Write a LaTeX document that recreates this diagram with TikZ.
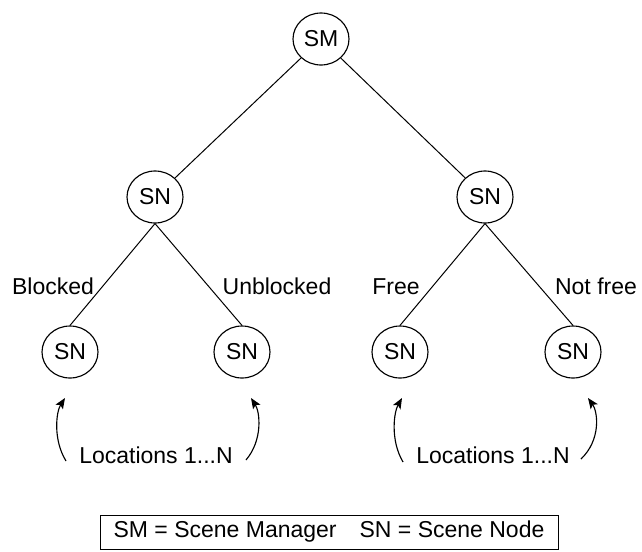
\documentclass[tikz,border=0pt]{standalone}
\usepackage{fontspec}
\setmainfont{Liberation Sans}
\usetikzlibrary{shapes.geometric,arrows.meta,calc}

\begin{document}
\begin{tikzpicture}[x=0.75pt,y=-0.75pt,
  every node/.style={font=\fontsize{17.25}{20}\selectfont},
  treenode/.style={draw,ellipse,line width=0.85pt,minimum width=42pt,minimum height=39pt,inner sep=0pt},
  edge/.style={line width=0.75pt},
  branch/.style={anchor=base,inner sep=0pt},
  pointer/.style={line width=0.85pt,-{Stealth[length=8pt,width=6.5pt,inset=1.8pt]}},
  legend/.style={draw,line width=0.75pt,minimum width=343.5pt,minimum height=25.5pt,inner sep=0pt}]

  \useasboundingbox (0,0) rectangle (642,551);

  % tree
  \node[treenode] (sm) at (321,39) {SM};
  \node[treenode] (snl) at (155,197) {SN};
  \node[treenode] (snr) at (485,197) {SN};
  \node[treenode] (snll) at (70,352) {SN};
  \node[treenode] (snlr) at (242,352) {SN};
  \node[treenode] (snrl) at (400,352) {SN};
  \node[treenode] (snrr) at (573,352) {SN};

  \draw[edge] (sm) -- (snl);
  \draw[edge] (sm) -- (snr);
  \draw[edge] (snl.south) -- (snll.north);
  \draw[edge] (snl.south) -- (snlr.north);
  \draw[edge] (snr.south) -- (snrl.north);
  \draw[edge] (snr.south) -- (snrr.north);

  % branch labels
  \node[branch] (lb1) at (53,294) {Blocked};
  \node[branch] (lb2) at (277,294) {Unblocked};
  \node[branch] (lb3) at (396,294) {Free};
  \node[branch] (lb4) at (596,294) {Not free};

  % location labels and their pointers
  \node[branch] (locl) at (156,463) {Locations 1...N};
  \node[branch] (locr) at (493,463) {Locations 1...N};

  \coordinate (tipll) at (65,398);
  \coordinate (tiplr) at (251,398);
  \coordinate (tiprl) at (402,398);
  \coordinate (tiprr) at (588,398);

  \draw[pointer] ($(locl.base west)+(-13,-2)$) .. controls (53,440) and (56,412) .. (tipll);
  \draw[pointer] ($(locl.base east)+(13,-3)$) .. controls (263,440) and (260,412) .. (tiplr);
  \draw[pointer] ($(locr.base west)+(-13,-1)$) .. controls (390,440) and (394,412) .. (tiprl);
  \draw[pointer] ($(locr.base east)+(11,-4)$) .. controls (601,440) and (598,412) .. (tiprr);

  % legend
  \node[legend] (key) at (329,532) {SM = Scene Manager\hspace{1em}SN = Scene Node};
\end{tikzpicture}
\end{document}
